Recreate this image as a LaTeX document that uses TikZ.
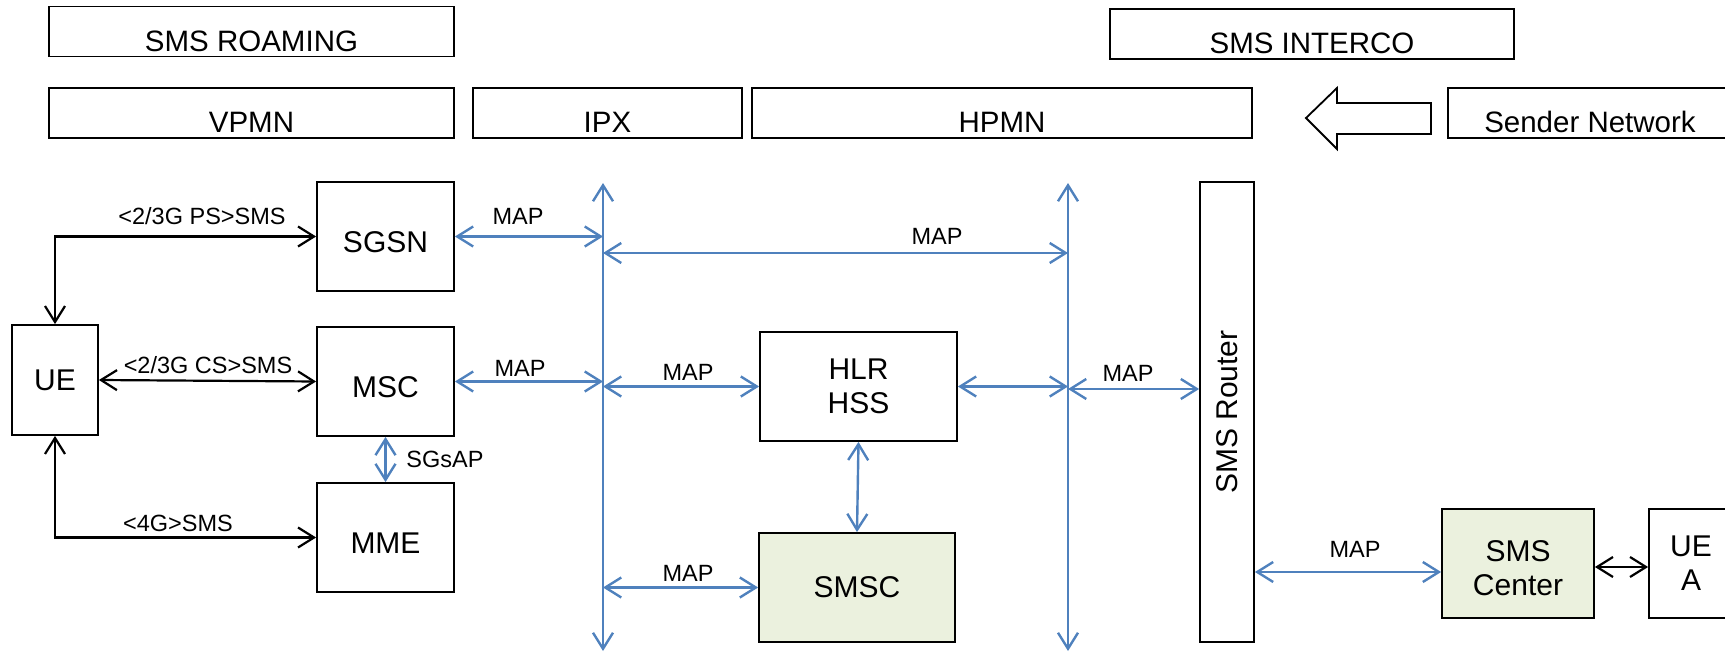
\documentclass[tikz,border=0pt]{standalone}
\usepackage{fontspec}
\setmainfont{Liberation Sans}
\usetikzlibrary{arrows.meta}
\definecolor{mapblue}{HTML}{4F81BD}
\definecolor{smscfill}{HTML}{EBF1DE}
\begin{document}
\begin{tikzpicture}[x=1pt,y=-1pt,
  >={Straight Barb[length=16pt,width=20pt]},
  box/.style={draw=black,line width=1.8pt,inner sep=0pt,align=center,font=\fontsize{30}{34}\selectfont},
  hdr/.style={draw=black,line width=1.6pt,inner sep=0pt,minimum height=50pt,text height=40pt,text depth=0pt,font=\fontsize{29.5}{34}\selectfont},
  lbl/.style={inner sep=0pt,font=\fontsize{23.5}{27}\selectfont},
  blk/.style={draw=black,line width=2.2pt,<->},
  blu/.style={draw=mapblue,line width=2.4pt,<->},
  bigarrow/.style={draw=black,line width=1.8pt,fill=white,line join=miter}
]
\useasboundingbox (0,0) rectangle (1725,652);

% header boxes
\node[hdr,minimum width=405pt] (roam) at (251.5,31.5) {SMS ROAMING};
\node[hdr,minimum width=404pt] (interco) at (1312,34) {SMS INTERCO};
\node[hdr,minimum width=405pt] (vpmn) at (251.5,113) {VPMN};
\node[hdr,minimum width=269pt] (ipx) at (607.5,113) {IPX};
\node[hdr,minimum width=500pt] (hpmn) at (1002,113) {HPMN};
\node[hdr,minimum width=284pt] (sender) at (1590,113) {Sender Network};
\draw[bigarrow] (1306,118) -- (1337,88) -- (1337,103) -- (1431,103) -- (1431,134)
  -- (1337,134) -- (1337,149) -- cycle;

% network elements
\node[box,minimum width=86pt,minimum height=110pt] (ue) at (55,380) {UE};
\node[box,minimum width=137pt,minimum height=109pt] (sgsn) at (385.5,236.5) {\raisebox{-6pt}[\height][\depth]{SGSN}};
\node[box,minimum width=137pt,minimum height=109pt] (msc) at (385.5,381.5) {\raisebox{-6pt}[\height][\depth]{MSC}};
\node[box,minimum width=137pt,minimum height=109pt] (mme) at (385.5,537.5) {\raisebox{-6pt}[\height][\depth]{MME}};
\node[box,minimum width=197pt,minimum height=109pt] (hlr) at (858.5,386.5) {HLR\\HSS};
\node[box,fill=smscfill,minimum width=196pt,minimum height=109pt] (smsc) at (857,587.5) {SMSC};
\node[box,minimum width=54pt,minimum height=460pt] (router) at (1227,412) {\rotatebox{90}{SMS Router}};
\node[box,fill=smscfill,minimum width=152pt,minimum height=109pt] (smscenter) at (1518,563.5)
  {\raisebox{-8pt}[\height][\depth]{\begin{tabular}{@{}c@{}}SMS\\Center\end{tabular}}};
\node[box,minimum width=84pt,minimum height=109pt] (uea) at (1691,563.5) {UE\\A};

% bus lines
\coordinate (ipxT) at (603,183);
\coordinate (ipxB) at (603,651);
\coordinate (hpmnT) at (1068,183);
\coordinate (hpmnB) at (1068,651);
\coordinate (ipxM) at (603,253);
\coordinate (hpmnM) at (1068,253);
\draw[blu] (ipxT) -- (ipxB);
\draw[blu] (hpmnT) -- (hpmnB);
\draw[blu] (ipxM) -- (hpmnM);

% black connectors
\draw[blk] (ue.north) |- (sgsn.west);
\draw[blk] (ue.east) -- (msc.west);
\draw[blk] (ue.south) |- (mme.west);
\draw[blk] (smscenter.east |- 0,567) -- (uea.west |- 0,567);

% blue connectors
\draw[blu] (msc.south) -- (mme.north);
\draw[blu] (sgsn.east) -- (sgsn.east -| ipxT);
\draw[blu] (msc.east) -- (msc.east -| ipxT);
\draw[blu] (hlr.west -| ipxT) -- (hlr.west);
\draw[blu] (smsc.west -| ipxT) -- (smsc.west);
\draw[blu] (hlr.east) -- (hlr.east -| hpmnT);
\draw[blu] (hpmnT |- 0,389) -- (router.west |- 0,389);
\draw[blu] (hlr.south) -- (smsc.north);
\draw[blu] (router.east |- 0,572) -- (smscenter.west |- 0,572);

% labels
\node[lbl] (lps) at (202,216) {<2/3G PS>SMS};
\node[lbl] (lcs) at (208,365) {<2/3G CS>SMS};
\node[lbl] (l4g) at (178,523) {<4G>SMS};
\node[lbl] (lsgs) at (445,459) {SGsAP};
\node[lbl] (m1) at (518,216) {MAP};
\node[lbl] (m2) at (520,368) {MAP};
\node[lbl] (m3) at (937,236) {MAP};
\node[lbl] (m4) at (688,372) {MAP};
\node[lbl] (m5) at (1128,373) {MAP};
\node[lbl] (m6) at (688,573) {MAP};
\node[lbl] (m7) at (1355,549) {MAP};
\end{tikzpicture}
\end{document}
